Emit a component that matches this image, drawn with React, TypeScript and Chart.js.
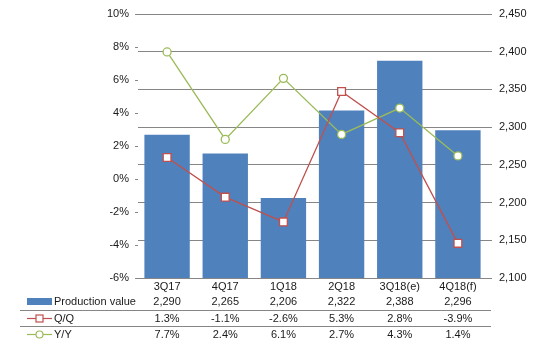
import React, { useEffect, useRef } from "react";
import { Chart, registerables } from "chart.js";

Chart.register(...registerables);

const categories = ["3Q17", "4Q17", "1Q18", "2Q18", "3Q18(e)", "4Q18(f)"];
const productionValue = [2290, 2265, 2206, 2322, 2388, 2296];
const qoq = [1.3, -1.1, -2.6, 5.3, 2.8, -3.9];
const yoy = [7.7, 2.4, 6.1, 2.7, 4.3, 1.4];
const seriesNames = ["Production value", "Q/Q", "Y/Y"];

const BAR_COLOR = "#4F81BD";
const RED = "#C0504D";
const GREEN = "#9BBB59";
const GRID = "#868686";
const TEXT = "#1a1a1a";
const FONT_FAMILY = "'Liberation Sans', Arial, sans-serif";

const tablePlugin = {
  id: "dataTable",
  afterDraw(chart: any) {
    const ctx = chart.ctx;
    const x = chart.scales.x;
    const area = chart.chartArea;
    ctx.save();
    ctx.font = `11px ${FONT_FAMILY}`;
    ctx.fillStyle = TEXT;
    ctx.textBaseline = "middle";
    const rows = [
      { y: 302, vals: productionValue.map((v) => v.toLocaleString("en-US")) },
      { y: 318.5, vals: qoq.map((v) => v.toFixed(1) + "%") },
      { y: 334.5, vals: yoy.map((v) => v.toFixed(1) + "%") },
    ];
    // separators
    ctx.strokeStyle = GRID;
    ctx.lineWidth = 1;
    [310.5, 326.5].forEach((ly) => {
      ctx.beginPath();
      ctx.moveTo(20, ly);
      ctx.lineTo(area.right + 4, ly);
      ctx.stroke();
    });
    // values
    ctx.textAlign = "center";
    rows.forEach((r) => {
      r.vals.forEach((s, i) => {
        ctx.fillText(s, x.getPixelForValue(i), r.y);
      });
    });
    // legend keys
    ctx.textAlign = "left";
    ctx.fillStyle = BAR_COLOR;
    ctx.fillRect(27, 298, 25, 7);
    // Q/Q key
    ctx.strokeStyle = RED;
    ctx.lineWidth = 1.2;
    ctx.beginPath();
    ctx.moveTo(27, 318.5);
    ctx.lineTo(52, 318.5);
    ctx.stroke();
    ctx.fillStyle = "#fff";
    ctx.fillRect(36, 315, 7, 7);
    ctx.strokeRect(36, 315, 7, 7);
    // Y/Y key
    ctx.strokeStyle = GREEN;
    ctx.beginPath();
    ctx.moveTo(27, 334.5);
    ctx.lineTo(52, 334.5);
    ctx.stroke();
    ctx.beginPath();
    ctx.arc(39.5, 334.5, 3.5, 0, Math.PI * 2);
    ctx.fill();
    ctx.stroke();
    ctx.fillStyle = TEXT;
    rows.forEach((r, i) => {
      ctx.fillText(seriesNames[i], 54, r.y);
    });
    ctx.restore();
  },
};

export default function App() {
  const ref = useRef<HTMLCanvasElement | null>(null);
  useEffect(() => {
    document.body.style.margin = "0";
    if (!ref.current) return;
    const chart = new Chart(ref.current, {
      type: "bar",
      data: {
        labels: categories,
        datasets: [
          {
            type: "line",
            label: seriesNames[1],
            data: qoq,
            yAxisID: "y",
            borderColor: RED,
            backgroundColor: "#fff",
            borderWidth: 1.3,
            pointStyle: "rect",
            pointRadius: 5.5,
            pointBorderWidth: 1.3,
            pointBackgroundColor: "#fff",
            pointBorderColor: RED,
            order: 1,
          } as any,
          {
            type: "line",
            label: seriesNames[2],
            data: yoy,
            yAxisID: "y",
            borderColor: GREEN,
            backgroundColor: "#fff",
            borderWidth: 1.3,
            pointStyle: "circle",
            pointRadius: 4,
            pointBorderWidth: 1.3,
            pointBackgroundColor: "#fff",
            pointBorderColor: GREEN,
            order: 2,
          } as any,
          {
            type: "bar",
            label: seriesNames[0],
            data: productionValue,
            yAxisID: "y1",
            backgroundColor: BAR_COLOR,
            barPercentage: 0.78,
            categoryPercentage: 1,
            order: 3,
          } as any,
        ],
      },
      options: {
        responsive: false,
        animation: false,
        layout: { padding: { top: 14, left: 0, right: 0, bottom: 0 } },
        plugins: {
          legend: { display: false },
          tooltip: { enabled: false },
        },
        scales: {
          x: {
            grid: { display: false, drawTicks: false, tickLength: 0 },
            border: { display: false },
            ticks: {
              color: TEXT,
              font: { family: FONT_FAMILY, size: 11 },
              padding: 2,
              maxRotation: 0,
            },
            afterFit: (s: any) => {
              s.height = 72;
            },
          },
          y: {
            position: "left",
            min: -6,
            max: 10,
            border: { display: false },
            grid: {
              drawOnChartArea: false,
              tickLength: 3,
              color: GRID,
            },
            ticks: {
              stepSize: 2,
              color: TEXT,
              font: { family: FONT_FAMILY, size: 11 },
              padding: 6,
              callback: (v: any) => `${v}%`,
            },
            afterFit: (s: any) => {
              s.width = 138;
            },
          },
          y1: {
            position: "right",
            min: 2100,
            max: 2450,
            border: { display: false },
            grid: {
              drawOnChartArea: true,
              tickLength: 5,
              color: GRID,
              lineWidth: 1,
            },
            ticks: {
              stepSize: 50,
              color: TEXT,
              font: { family: FONT_FAMILY, size: 11 },
              padding: 7,
              callback: (v: any) => Number(v).toLocaleString("en-US"),
            },
            afterFit: (s: any) => {
              s.width = 52;
            },
          },
        },
      },
      plugins: [tablePlugin],
    });
    return () => chart.destroy();
  }, []);
  return (
    <div style={{ width: 539, height: 350 }}>
      <canvas ref={ref} width={539} height={350} />
    </div>
  );
}
